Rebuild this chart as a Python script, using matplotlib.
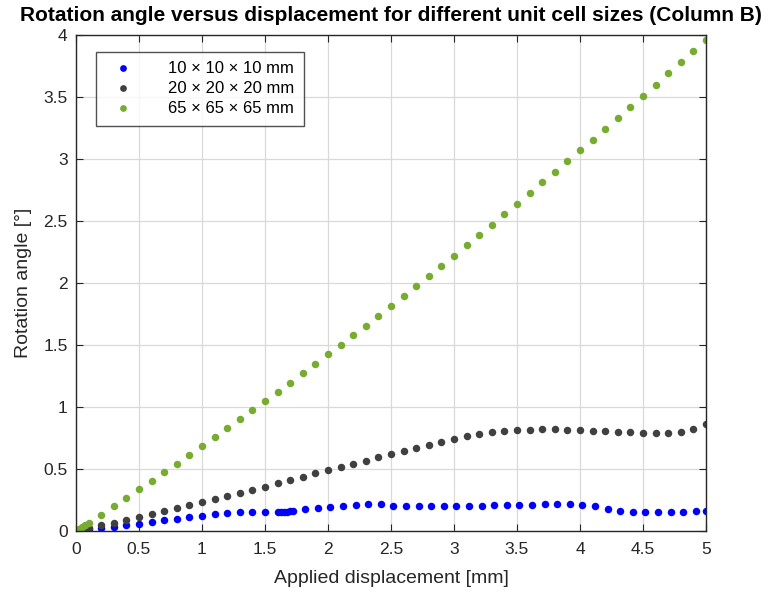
import matplotlib
matplotlib.use("Agg")
import matplotlib.pyplot as plt
from matplotlib.ticker import FormatStrFormatter, MultipleLocator

plt.rcParams['font.family'] = ['Liberation Sans', 'DejaVu Sans']

# ---- data ----
labels = ['10 \u00d7 10 \u00d7 10 mm', '20 \u00d7 20 \u00d7 20 mm', '65 \u00d7 65 \u00d7 65 mm']
colors = ['#0000ff', '#404040', '#77ac30']

x_start = [0, 0.025, 0.05, 0.075]
x_coarse = [0.1, 0.2, 0.3, 0.4, 0.5, 0.6, 0.7, 0.8, 0.9, 1.0,
            1.1, 1.2, 1.3, 1.4, 1.5, 1.6, 1.7, 1.8, 1.9, 2.0,
            2.1, 2.2, 2.3, 2.4, 2.5, 2.6, 2.7, 2.8, 2.9, 3.0,
            3.1, 3.2, 3.3, 3.4, 3.5, 3.6, 3.7, 3.8, 3.9, 4.0,
            4.1, 4.2, 4.3, 4.4, 4.5, 4.6, 4.7, 4.8, 4.9, 5.0]

# 10 mm cell: cutback near 1.6 mm, then steps shifted by 0.02
x_small = x_start + [0.1, 0.2, 0.3, 0.4, 0.5, 0.6, 0.7, 0.8, 0.9, 1.0,
                     1.1, 1.2, 1.3, 1.4, 1.5, 1.6, 1.625, 1.65, 1.675, 1.7,
                     1.72, 1.82, 1.92, 2.02, 2.12, 2.22, 2.32, 2.42, 2.52, 2.62,
                     2.72, 2.82, 2.92, 3.02, 3.12, 3.22, 3.32, 3.42, 3.52, 3.62,
                     3.72, 3.82, 3.92, 4.02, 4.12, 4.22, 4.32, 4.42, 4.52, 4.62,
                     4.72, 4.82, 4.92, 5.0]
y_small = [0, 0.003, 0.006, 0.009,
           0.012, 0.024, 0.036, 0.046, 0.060, 0.073, 0.088, 0.100, 0.111, 0.124,
           0.134, 0.143, 0.152, 0.156, 0.154, 0.153, 0.154, 0.155, 0.156, 0.158,
           0.163, 0.174, 0.184, 0.194, 0.202, 0.209, 0.215, 0.217, 0.204, 0.199,
           0.198, 0.198, 0.199, 0.201, 0.202, 0.205, 0.206, 0.207, 0.210, 0.213,
           0.214, 0.214, 0.214, 0.211, 0.201, 0.174, 0.158, 0.153, 0.153, 0.155,
           0.156, 0.157, 0.159, 0.162]

x_mid = x_start + x_coarse
y_mid = [0, 0.006, 0.012, 0.018,
         0.024, 0.046, 0.068, 0.092, 0.115, 0.137, 0.160, 0.183, 0.206, 0.234,
         0.258, 0.283, 0.308, 0.332, 0.358, 0.385, 0.410, 0.437, 0.464, 0.490,
         0.515, 0.544, 0.568, 0.594, 0.620, 0.647, 0.670, 0.694, 0.718, 0.742,
         0.764, 0.782, 0.796, 0.806, 0.814, 0.817, 0.820, 0.820, 0.817, 0.814,
         0.809, 0.804, 0.798, 0.795, 0.790, 0.787, 0.788, 0.796, 0.820, 0.860]

x_large = x_start + x_coarse
y_large = [0, 0.016, 0.033, 0.049,
           0.066, 0.132, 0.199, 0.267, 0.335, 0.404, 0.473, 0.543, 0.613, 0.684,
           0.756, 0.828, 0.900, 0.973, 1.047, 1.121, 1.196, 1.272, 1.348, 1.424,
           1.501, 1.579, 1.657, 1.736, 1.815, 1.895, 1.975, 2.056, 2.138, 2.220,
           2.303, 2.386, 2.470, 2.554, 2.639, 2.725, 2.811, 2.897, 2.984, 3.070,
           3.157, 3.245, 3.333, 3.421, 3.510, 3.600, 3.690, 3.780, 3.870, 3.960]

series = [(x_small, y_small), (x_mid, y_mid), (x_large, y_large)]

fig = plt.figure(figsize=(7.69, 5.97), dpi=100)
ax = fig.add_axes([0.0988, 0.1106, 0.8192, 0.8308])

for (xs, ys), c, lab in zip(series, colors, labels):
    ax.plot(xs, ys, linestyle='none', marker='o', ms=5.4, mew=0,
            color=c, label=lab)

ax.set_xlim(0, 5)
ax.set_ylim(0, 4)
ax.xaxis.set_major_locator(MultipleLocator(0.5))
ax.yaxis.set_major_locator(MultipleLocator(0.5))
ax.xaxis.set_major_formatter(FormatStrFormatter('%g'))
ax.yaxis.set_major_formatter(FormatStrFormatter('%g'))

ax.grid(True, color='#d9d9d9', linewidth=0.9)
ax.set_axisbelow(True)
ax.tick_params(direction='in', top=True, right=True, length=5,
               labelsize=12.5, colors='#262626')
ax.tick_params(axis='x', pad=8)
ax.tick_params(axis='y', pad=6)
for s in ax.spines.values():
    s.set_color('#262626')
    s.set_linewidth(1.0)

ax.set_xlabel('Applied displacement [mm]', fontsize=14, color='#262626', labelpad=9)
ax.set_ylabel('Rotation angle [\u00b0]', fontsize=14, color='#262626', labelpad=8)
ax.set_title('Rotation angle versus displacement for different unit cell sizes (Column B)',
             fontsize=15, fontweight='bold', pad=10)

leg = ax.legend(loc='upper left', bbox_to_anchor=(0.018, 0.982), fontsize=12,
                frameon=True, fancybox=False, edgecolor='#262626',
                handletextpad=1.6, borderpad=0.55, labelspacing=0.3,
                handlelength=2.2, markerscale=0.9)
leg.get_frame().set_linewidth(1.0)

fig.savefig('out.png', dpi=100)
